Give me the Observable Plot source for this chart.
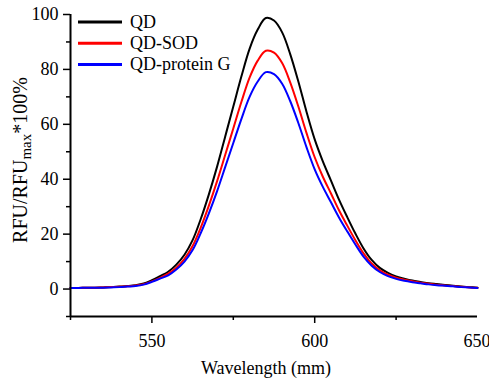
<!DOCTYPE html>
<html>
<head>
<meta charset="utf-8">
<script src="https://cdn.jsdelivr.net/npm/d3@7"></script>
<script src="https://cdn.jsdelivr.net/npm/@observablehq/plot@0.6"></script>
<style>
  html, body { margin: 0; padding: 0; background: #fff; }
  #chart svg, #chart svg text, #chart svg tspan { font-family: "Liberation Serif", "DejaVu Serif", "Times New Roman", Times, serif !important; }
</style>
</head>
<body>
<div id="chart"></div>
<script>
const wavelengths = [
  525, 527.5, 530, 532.5, 535, 537.5, 540, 542.5, 545, 547.5,
  550, 552.5, 555, 557.5, 560, 562.5, 565, 567.5, 570, 572.5,
  575, 577.5, 580, 582.5, 585, 587.5, 590, 592.5, 595, 597.5,
  600, 602.5, 605, 607.5, 610, 612.5, 615, 617.5, 620, 622.5,
  625, 627.5, 630, 632.5, 635, 637.5, 640, 642.5, 645, 647.5,
  650
];
const qd = [
  0.4, 0.4, 0.5, 0.5, 0.6, 0.7, 0.9, 1.1, 1.4, 2.0,
  3.2, 4.7, 6.3, 8.9, 12.5, 17.8, 25.5, 34.5, 44.5, 55.5,
  66.5, 77.5, 87.5, 94.5, 98.7, 97.8, 93.5, 85.5, 75.5, 64.5,
  54.5, 46.5, 39.5, 32.5, 26.2, 20.2, 14.8, 10.6, 7.7, 5.9,
  4.6, 3.8, 3.1, 2.6, 2.1, 1.8, 1.5, 1.2, 0.9, 0.7,
  0.5
];
const qdSod = [
  0.4, 0.4, 0.5, 0.5, 0.6, 0.7, 0.8, 1.0, 1.3, 1.8,
  2.8, 4.1, 5.6, 7.8, 11.0, 15.7, 22.4, 30.4, 39.2, 48.8,
  58.5, 68.2, 77.0, 83.2, 86.8, 86.1, 82.3, 75.2, 66.4, 56.8,
  48.0, 40.9, 34.8, 28.6, 23.1, 17.8, 13.0, 9.3, 6.8, 5.2,
  4.1, 3.4, 2.8, 2.3, 1.9, 1.6, 1.3, 1.1, 0.8, 0.6,
  0.5
];
const qdProteinG = [
  0.4, 0.4, 0.5, 0.5, 0.5, 0.6, 0.7, 0.9, 1.1, 1.6,
  2.6, 3.8, 5.0, 7.1, 10.0, 14.2, 20.4, 27.6, 35.6, 44.4,
  53.2, 62.0, 70.0, 75.6, 79.0, 78.3, 74.8, 68.4, 60.4, 51.6,
  43.6, 37.2, 31.6, 26.0, 21.0, 16.2, 11.8, 8.5, 6.2, 4.7,
  3.7, 3.0, 2.5, 2.1, 1.7, 1.4, 1.2, 1.0, 0.7, 0.6,
  0.4
];
const seriesNames = ["QD", "QD-SOD", "QD-protein G"];
const seriesColors = ["#000000", "#ff0000", "#0000ff"];
const seriesValues = [qd, qdSod, qdProteinG];
const xMajorTicks = [550, 600];
const xLastTick = [650];
const xMinorTicks = [525, 575, 625];
const yMajorTicks = [0, 20, 40, 60, 80, 100];
const yMinorTicks = [-10, 10, 30, 50, 70, 90];

const data = [];
seriesNames.forEach((name, i) => {
  wavelengths.forEach((w, j) => data.push({wavelength: w, value: seriesValues[i][j], series: name}));
});

const font = "Liberation Serif, DejaVu Serif, Times New Roman, serif";

const svg = Plot.plot({
  width: 489,
  height: 381,
  marginLeft: 70,
  marginRight: 12,
  marginTop: 14,
  marginBottom: 65,
  style: {fontFamily: font, fontSize: "18px", color: "#000", background: "#fff", overflow: "visible"},
  x: {domain: [525, 650]},
  y: {domain: [-10, 100]},
  color: {domain: seriesNames, range: seriesColors},
  marks: [
    Plot.axisY({ticks: yMajorTicks, tickSize: 7, tickPadding: 5, label: null, strokeWidth: 1.5, fontSize: 18}),
    Plot.axisY({ticks: yMinorTicks, tickSize: 4, tickFormat: () => "", label: null, strokeWidth: 1.5}),
    Plot.axisX({ticks: xMajorTicks, tickSize: 7, tickPadding: 11, label: null, strokeWidth: 1.5, fontSize: 18}),
    Plot.axisX({ticks: xLastTick, tickSize: 7, tickPadding: 11, label: null, strokeWidth: 1.5, fontSize: 18, textAnchor: "end", dx: 13}),
    Plot.axisX({ticks: xMinorTicks, tickSize: 4, tickFormat: () => "", label: null, strokeWidth: 1.5}),
    Plot.line(data, {x: "wavelength", y: "value", z: "series", stroke: "series", strokeWidth: 2, curve: "catmull-rom"}),
    Plot.ruleX([525], {y1: -10, y2: 100, strokeWidth: 2}),
    Plot.ruleY([-10], {strokeWidth: 2})
  ]
});

const s = d3.select(svg);

// Legend
const legend = s.append("g").attr("font-size", 18).attr("text-anchor", "start");
seriesNames.forEach((name, i) => {
  const y = 22 + i * 21.2;
  legend.append("line").attr("x1", 78).attr("x2", 122).attr("y1", y).attr("y2", y)
    .attr("stroke", seriesColors[i]).attr("stroke-width", 3);
  legend.append("text").attr("x", 130).attr("y", y + 6).attr("fill", "#000")
    .attr("text-anchor", "start").text(name);
});

// X axis label
s.append("text").attr("x", 266).attr("y", 374).attr("text-anchor", "middle")
  .attr("font-size", 18).attr("fill", "#000")
  .text("Wavelength (mm)");

// Y axis label
const yl = s.append("text").attr("transform", "translate(27,160) rotate(-90)")
  .attr("text-anchor", "middle").attr("font-size", 20).attr("fill", "#000");
yl.append("tspan").text("RFU/RFU");
yl.append("tspan").attr("font-size", 15).attr("dy", 4).text("max");
yl.append("tspan").attr("dy", -4).text("*100%");

document.getElementById("chart").appendChild(svg);
</script>
</body>
</html>
